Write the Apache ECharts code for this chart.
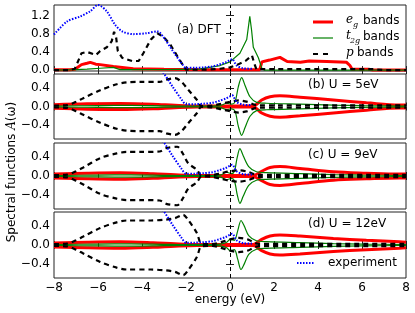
<!DOCTYPE html>
<html><head><meta charset="utf-8">
<script src="https://cdn.jsdelivr.net/npm/echarts@6/dist/echarts.min.js"></script>
<style>html,body{margin:0;padding:0;background:#fff}#c{width:415px;height:313px}</style>
</head><body><div id="c"></div>
<script>
// ---------- data (energy in eV, spectral function) ----------
const xTicks = [-8, -6, -4, -2, 0, 2, 4, 6, 8];
const yTicksA = [0.0, 0.4, 0.8, 1.2];
const yTicksU = [-0.4, 0.0, 0.4];
const panelLabels = ['(a) DFT', '(b) U = 5eV', '(c) U = 9eV', '(d) U = 12eV'];

// experiment (shared by all panels)
const expE = [-8,-7.4,-6.8,-6.36,-6.0,-5.6,-5.23,-4.9,-4.4,-3.8,-3.3,-3.05,-2.6,-2.2,-2.0,-1.6,-1.2,-0.8,-0.5,-0.2,0.0,0.1,0.3,0.6,1.0];
const expA = [0.78,1.07,1.18,1.29,1.43,1.29,1.0,0.85,0.79,0.81,0.85,0.74,0.42,0.15,0.05,0.05,0.06,0.08,0.12,0.17,0.22,0.24,0.1,0.04,0.03];

// (a) DFT
const aEgE = [-8,-7.3,-7.05,-6.75,-6.5,-6.35,-6.1,-5.9,-5.3,-4.4,-3,-1,0,1.0,1.35,1.45,1.8,2.27,2.6,3.2,3.6,4.4,5.3,5.45,5.55,6.3,6.5,8];
const aEg  = [0.01,0.01,0.02,0.12,0.15,0.17,0.13,0.12,0.08,0.03,0.02,0.01,0.01,0.01,0.01,0.18,0.22,0.28,0.19,0.17,0.2,0.19,0.17,0.1,0.02,0.02,0.0,0.0];
const aT2gE = [-8,-7,-6.5,-5.9,-5.3,-5.0,-3,-1.4,-0.45,0,0.45,0.76,0.9,0.98,1.06,1.29,1.44,1.55,8];
const aT2g  = [0,0.01,0.02,0.04,0.06,0.01,0.01,0.02,0.1,0.18,0.37,0.67,1.18,0.88,0.5,0.27,0.05,0,0];
const aPE = [-8,-7.3,-7.05,-6.75,-6.5,-6.1,-5.9,-5.6,-5.38,-5.27,-5.18,-5.1,-4.9,-4.45,-4.15,-3.94,-3.6,-3.3,-3.0,-2.7,-2.35,-2.1,-2.0,-1.0,-0.45,0,0.35,0.7,1.0,1.1,1.2,6.5,7,8];
const aP  = [0,0,0.03,0.37,0.4,0.33,0.42,0.5,0.63,0.84,0.73,0.42,0.27,0.2,0.2,0.37,0.67,0.81,0.72,0.55,0.27,0.08,0.01,0.01,0.03,0.06,0.12,0.2,0.32,0.15,0.02,0.02,0.0,0.0];

// (b) U = 5 eV  (spin up; spin down drawn mirrored)
const bEgE = [-8,-6.5,-5,-3.5,-2.5,-1.5,-0.5,0.5,1.05,1.44,1.82,2.27,3.18,4.7,6.2,7.7,8];
const bEg  = [0.04,0.06,0.065,0.05,0.025,0.01,0.01,0.01,0.01,0.14,0.21,0.23,0.2,0.14,0.08,0.03,0.03];
const bT2gE = [-8,-6,-4.5,-3,-2,-1,-0.45,-0.15,0.07,0.23,0.38,0.53,0.68,0.91,1.21,1.67,3.18,4.7,6,8];
const bT2g  = [0.01,0.02,0.025,0.015,0.01,0.01,0.02,0.07,0.05,0.1,0.43,0.62,0.46,0.21,0.09,0.07,0.05,0.03,0.02,0.01];
const bPE = [-8,-7.4,-7,-6.67,-5.9,-5.15,-4.7,-4.1,-3.2,-2.9,-2.5,-2.2,-1.9,-1.5,-1.3,-0.8,-0.4,0,0.4,0.8,1.1,1.3,8];
const bP  = [0.02,0.03,0.1,0.18,0.35,0.48,0.52,0.53,0.53,0.58,0.61,0.53,0.36,0.14,0.01,0.02,0.06,0.1,0.13,0.1,0.04,0.025,0.025];

// (c) U = 9 eV
const cEgE = [-8,-6.5,-5,-3.5,-2.5,-1.5,-0.5,0.5,1.05,1.44,1.82,2.27,3.18,4.7,6.2,7.7,8];
const cEg  = [0.04,0.06,0.07,0.05,0.025,0.01,0.01,0.01,0.01,0.1,0.18,0.2,0.16,0.09,0.06,0.04,0.04];
const cT2gE = [-8,-6,-4.5,-3,-2,-1,-0.45,-0.15,0.07,0.2,0.33,0.45,0.6,0.85,1.2,1.67,3.18,4.7,6,8];
const cT2g  = [0.01,0.02,0.025,0.015,0.01,0.01,0.02,0.08,0.05,0.1,0.4,0.58,0.43,0.2,0.09,0.07,0.05,0.03,0.02,0.01];
const cPE = [-8,-7.4,-7,-6.67,-5.9,-5.15,-4.7,-4.1,-3.2,-2.9,-2.4,-2.15,-1.9,-1.5,-1.3,-0.8,-0.4,0,0.4,0.8,1.1,1.3,8];
const cP  = [0.02,0.03,0.1,0.18,0.38,0.48,0.51,0.51,0.52,0.59,0.62,0.48,0.27,0.13,0.01,0.02,0.06,0.1,0.12,0.09,0.04,0.025,0.025];

// (d) U = 12 eV
const dEgE = [-8,-6.5,-5,-3.5,-2.5,-1.5,-0.5,0.5,1.05,1.44,1.82,2.27,3.18,4.7,6.2,7.7,8];
const dEg  = [0.04,0.06,0.07,0.05,0.025,0.01,0.01,0.01,0.01,0.12,0.19,0.21,0.19,0.14,0.1,0.07,0.06];
const dT2gE = [-8,-6,-4.5,-3,-2,-1,-0.45,-0.15,0.0,0.2,0.35,0.5,0.65,0.85,1.2,1.67,3.18,4.7,6,8];
const dT2g  = [0.01,0.02,0.025,0.015,0.01,0.01,0.02,0.06,0.12,0.1,0.3,0.52,0.4,0.2,0.09,0.07,0.05,0.03,0.02,0.01];
const dPE = [-8,-7.4,-7,-6.67,-5.9,-5.15,-4.7,-3.6,-2.9,-2.5,-2.13,-1.9,-1.5,-1.3,-0.8,-0.4,0,0.4,0.8,1.1,1.3,8];
const dP  = [0.02,0.03,0.1,0.18,0.36,0.48,0.52,0.52,0.54,0.57,0.64,0.53,0.25,0.03,0.02,0.06,0.12,0.15,0.12,0.05,0.025,0.025];

// ---------- layout ----------
const gridTops = [5, 74, 143, 212];
const gridHeights = [66, 65, 66, 66];
const LEFT = 54, WIDTH = 352;
const FONT = 'DejaVu Sans';
const RED = '#ff0000', GREEN = '#008000', BLACK = '#000000', BLUE = '#0000ff';

const fmtNum = (v, d) => { const a = Math.abs(v); return (v < -1e-9 ? '\u2212' : '') + (d === undefined ? String(a) : a.toFixed(d)); };

const grids = [], xAxes = [], yAxes = [], series = [];
for (let i = 0; i < 4; i++) {
  grids.push({ left: LEFT, top: gridTops[i], width: WIDTH, height: gridHeights[i], show: true,
    borderColor: '#222', borderWidth: 1, backgroundColor: 'transparent', containLabel: false });
}
const tickStyle = { show: true, inside: true, length: 4, lineStyle: { color: '#222', width: 1 } };
for (let i = 0; i < 4; i++) {
  xAxes.push({ type: 'value', gridIndex: i, min: -8, max: 8, interval: 2, position: 'bottom',
    axisLine: { show: false }, splitLine: { show: false }, axisTick: tickStyle,
    axisLabel: { show: i === 3, color: '#000', fontFamily: FONT, fontSize: 12, margin: 4,
      formatter: v => fmtNum(v) } });
}
for (let i = 0; i < 4; i++) {
  xAxes.push({ type: 'value', gridIndex: i, min: -8, max: 8, interval: 2, position: 'top',
    axisLine: { show: false }, splitLine: { show: false }, axisTick: tickStyle, axisLabel: { show: false } });
}
const yRange = i => i === 0 ? { min: -0.02, max: 1.43 } : { min: -0.7, max: 0.7 };
const yT = i => i === 0 ? yTicksA : yTicksU;
for (let i = 0; i < 4; i++) {
  yAxes.push(Object.assign({ type: 'value', gridIndex: i, position: 'left',
    axisLine: { show: false }, splitLine: { show: false },
    axisTick: Object.assign({ customValues: yT(i) }, tickStyle),
    axisLabel: { customValues: yT(i), color: '#000', fontFamily: FONT, fontSize: 12, margin: 4,
      formatter: v => fmtNum(v, 1) } }, yRange(i)));
}
for (let i = 0; i < 4; i++) {
  yAxes.push(Object.assign({ type: 'value', gridIndex: i, position: 'right',
    axisLine: { show: false }, splitLine: { show: false },
    axisTick: Object.assign({ customValues: yT(i) }, tickStyle),
    axisLabel: { show: false } }, yRange(i)));
}

function addLine(gi, E, V, sign, style, z, smooth) {
  series.push({ type: 'line', xAxisIndex: gi, yAxisIndex: gi, showSymbol: false, symbol: 'none',
    silent: true, animation: false, z: z, clip: true, smooth: smooth || false,
    data: E.map((e, k) => [e, sign * V[k]]), lineStyle: style });
}
const egStyle = { color: RED, width: 3 };
const t2gStyle = { color: GREEN, width: 1.2 };
const pStyle = { color: BLACK, width: 2.2, type: [5, 4] };
const expStyle = { color: BLUE, width: 2, type: [1.5, 1.5] };

// panel a
addLine(0, aEgE, aEg, 1, egStyle, 2);
addLine(0, aT2gE, aT2g, 1, t2gStyle, 3);
addLine(0, aPE, aP, 1, pStyle, 4);
addLine(0, expE, expA, 1, expStyle, 5, 0.3);
const sets = [[bEgE, bEg, bT2gE, bT2g, bPE, bP], [cEgE, cEg, cT2gE, cT2g, cPE, cP], [dEgE, dEg, dT2gE, dT2g, dPE, dP]];
sets.forEach((s, k) => {
  const gi = k + 1;
  [1, -1].forEach(sg => addLine(gi, s[0], s[1], sg, egStyle, 2, 0.35));
  [1, -1].forEach(sg => addLine(gi, s[2], s[3], sg, t2gStyle, 3, 0.3));
  [1, -1].forEach(sg => addLine(gi, s[4], s[5], sg, pStyle, 4, 0.3));
  addLine(gi, expE, expA, 1, expStyle, 5, 0.3);
});
for (let i = 0; i < 4; i++) {
  series.push({ type: 'line', xAxisIndex: i, yAxisIndex: i, data: [], silent: true, z: 6,
    markLine: { silent: true, symbol: 'none', animation: false, label: { show: false },
      lineStyle: { color: '#000', width: 1, type: [4, 3] }, data: [{ xAxis: 0 }] } });
}

// ---------- texts & legends ----------
const txt = (x, y, text, extra) => ({ type: 'text', x: x, y: y, silent: true, z: 100,
  style: Object.assign({ text: text, fill: '#000', font: '12px "' + FONT + '"', align: 'left', verticalAlign: 'middle' }, extra || {}) });
const graphics = [];
graphics.push(txt(177, 30, panelLabels[0]));
graphics.push(txt(308, 85, panelLabels[1]));
graphics.push(txt(308, 155, panelLabels[2]));
graphics.push(txt(308, 224, panelLabels[3]));
graphics.push({ type: 'line', z: 100, silent: true, shape: { x1: 313, y1: 22, x2: 333, y2: 22 }, style: { stroke: RED, lineWidth: 3 } });
graphics.push({ type: 'line', z: 100, silent: true, shape: { x1: 313, y1: 38, x2: 333, y2: 38 }, style: { stroke: GREEN, lineWidth: 1.2 } });
graphics.push({ type: 'line', z: 100, silent: true, shape: { x1: 313, y1: 54, x2: 333, y2: 54 }, style: { stroke: BLACK, lineWidth: 2.2, lineDash: [5, 5] } });
const MATH = 'italic 12px "DejaVu Serif"', SUB = 'italic 8px "DejaVu Serif"';
graphics.push(txt(346, 20, 'e', { font: MATH }));
graphics.push(txt(353, 25, 'g', { font: SUB }));
graphics.push(txt(363, 21, 'bands'));
graphics.push(txt(346, 36, 't', { font: MATH }));
graphics.push(txt(350, 41, '2g', { font: SUB }));
graphics.push(txt(363, 37, 'bands'));
graphics.push(txt(346, 53, 'p', { font: MATH }));
graphics.push(txt(357, 53, 'bands'));
graphics.push({ type: 'line', z: 100, silent: true, shape: { x1: 297, y1: 263, x2: 314, y2: 263 }, style: { stroke: BLUE, lineWidth: 2, lineDash: [1.5, 1.5] } });
graphics.push(txt(328, 263, 'experiment'));
graphics.push(txt(230, 300, 'energy (eV)', { align: 'center' }));
graphics.push({ type: 'text', x: 12, y: 172, rotation: Math.PI / 2, silent: true, z: 100,
  style: { text: 'Spectral functions {i|A}(\u03c9)', fill: '#000', font: '12px "' + FONT + '"',
    align: 'center', verticalAlign: 'middle',
    rich: { i: { fontStyle: 'italic', fontFamily: 'DejaVu Serif', fontSize: 12 } } } });

const chart = echarts.init(document.getElementById('c'), null, { renderer: 'canvas' });
chart.setOption({ animation: false, grid: grids, xAxis: xAxes, yAxis: yAxes, series: series, graphic: graphics });
</script></body></html>
